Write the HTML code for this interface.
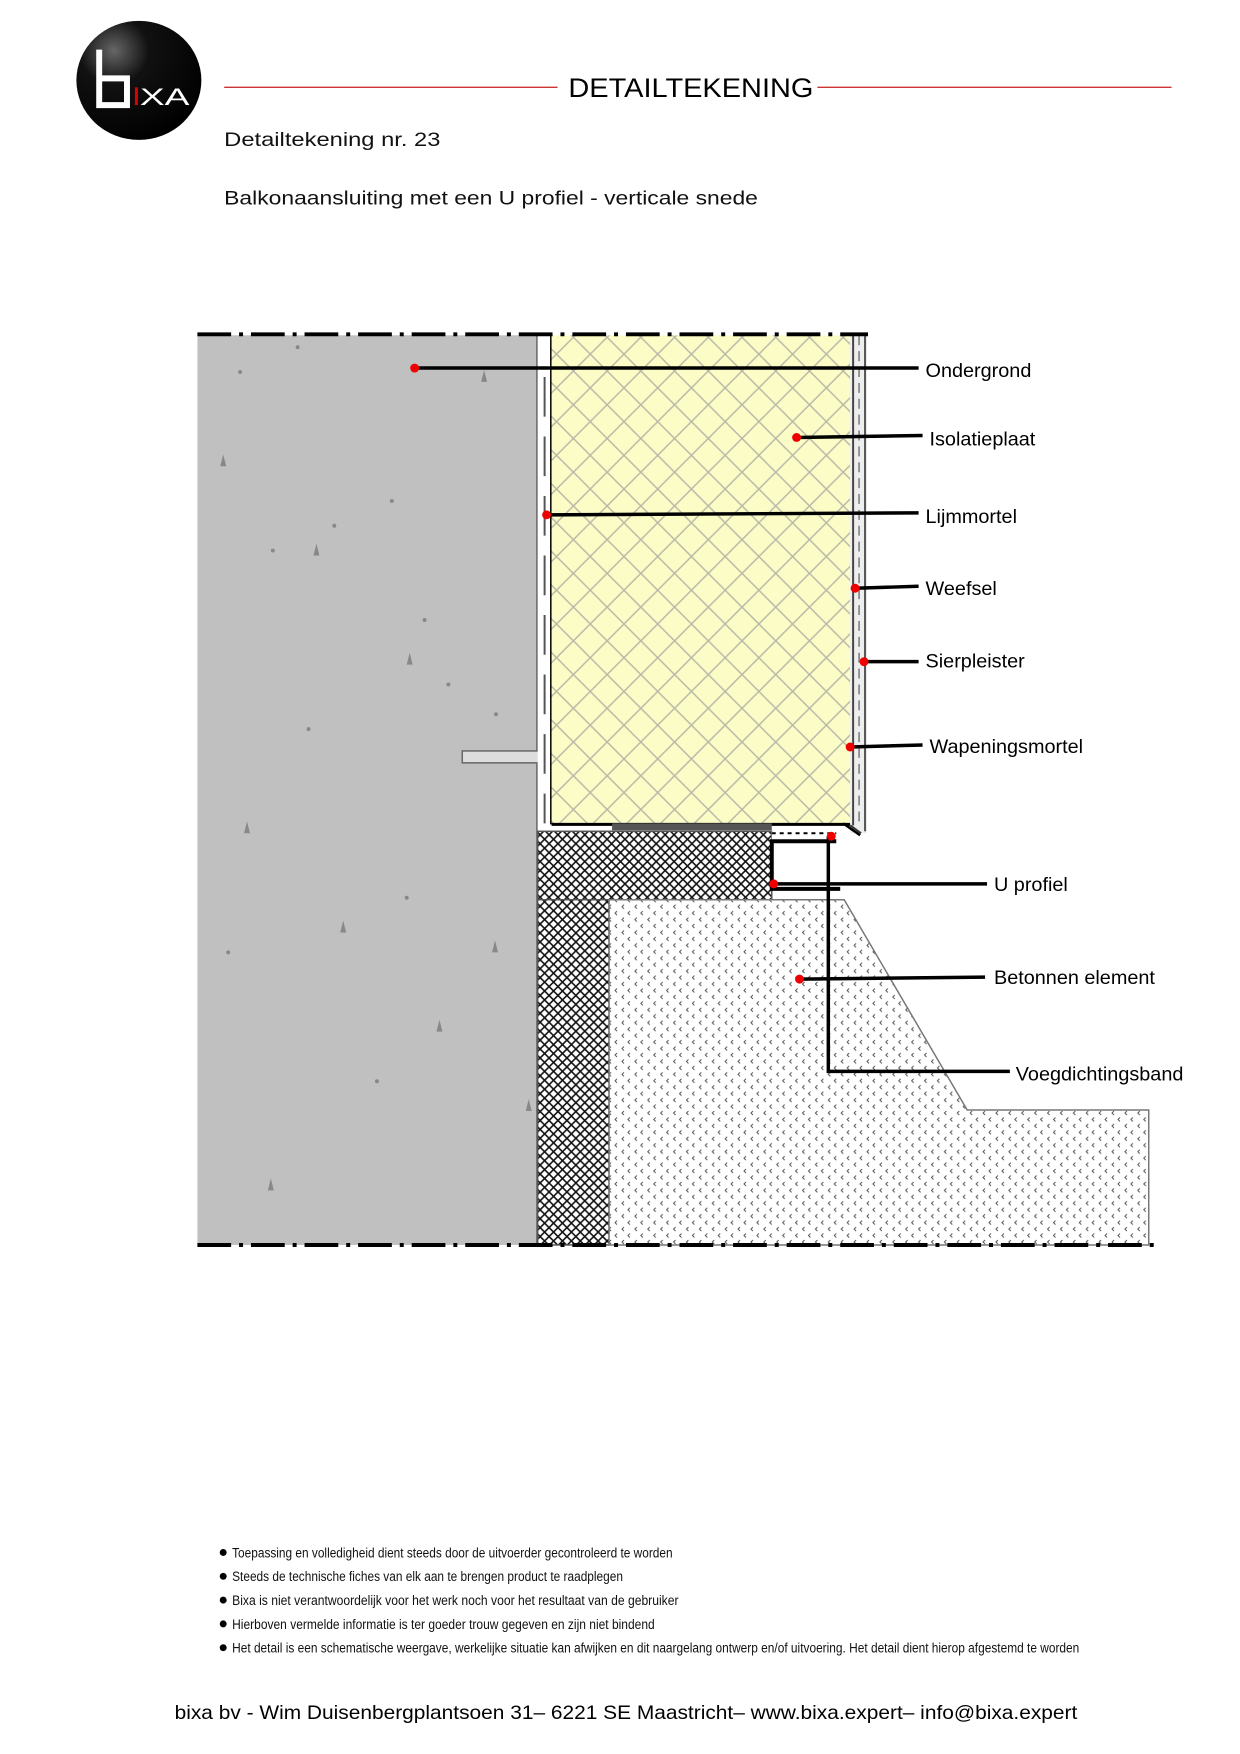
<!DOCTYPE html>
<html><head><meta charset="utf-8"><style>
html,body{margin:0;padding:0;background:#fff}
svg{display:block}
text{font-family:"Liberation Sans",sans-serif}
</style></head><body>
<svg width="1240" height="1754" viewBox="0 0 1240 1754" xmlns="http://www.w3.org/2000/svg">
<defs>
<radialGradient id="lg" cx="0.3" cy="0.25" r="0.8"><stop offset="0" stop-color="#666"/><stop offset="0.35" stop-color="#111"/><stop offset="1" stop-color="#000"/></radialGradient>
<pattern id="ins" width="34" height="34" patternUnits="userSpaceOnUse">
<rect width="34" height="34" fill="#fcfcc6"/>
<path d="M0 0L34 34M34 0L0 34" stroke="#b8b8a8" stroke-width="1.5"/>
</pattern>
<pattern id="hatch" width="9" height="9" patternUnits="userSpaceOnUse">
<rect width="9" height="9" fill="#fff"/>
<path d="M0 0L9 9M9 0L0 9" stroke="#111" stroke-width="1.6"/>
</pattern>
<pattern id="dots" width="13" height="13" patternUnits="userSpaceOnUse">
<rect width="13" height="13" fill="#fff"/>
<path d="M5 2L3 4L5 6" stroke="#555" stroke-width="1" fill="none"/>
<path d="M11 8.5L9 10.5L11 12.5" stroke="#555" stroke-width="1" fill="none"/>
</pattern>
</defs>
<g transform="scale(0.992)">
<!-- logo -->
<ellipse cx="140" cy="81" rx="63" ry="60" fill="url(#lg)"/>
<path d="M100 50V106H128V79H101" stroke="#fff" stroke-width="6" fill="none"/>
<rect x="136" y="88" width="3" height="18" fill="#d00"/>
<text x="141" y="106" font-size="24" fill="#fff" textLength="50" lengthAdjust="spacingAndGlyphs">XA</text>

<!-- header -->
<line x1="226" y1="88" x2="562" y2="88" stroke="#c33" stroke-width="1.3"/>
<line x1="824" y1="88" x2="1181" y2="88" stroke="#c33" stroke-width="1.3"/>
<text x="573" y="98" font-size="27" fill="#000" textLength="247" lengthAdjust="spacingAndGlyphs">DETAILTEKENING</text>
<text x="226" y="147" font-size="20" fill="#111" textLength="218" lengthAdjust="spacingAndGlyphs">Detailtekening nr. 23</text>
<text x="226" y="206" font-size="20" fill="#111" textLength="538" lengthAdjust="spacingAndGlyphs">Balkonaansluiting met een U profiel - verticale snede</text>

<!-- drawing -->
<rect x="199" y="338" width="343" height="917" fill="#c0c0c0"/>
<line x1="542" y1="338" x2="542" y2="1255" stroke="#666" stroke-width="3"/>
<g fill="#888">
<path d="M485 385l3 -12 3 12z"/><path d="M222 470l3 -12 3 12z"/><path d="M316 560l3 -12 3 12z"/><path d="M410 670l3 -12 3 12z"/><path d="M246 840l3 -12 3 12z"/><path d="M343 940l3 -12 3 12z"/><path d="M440 1040l3 -12 3 12z"/><path d="M270 1200l3 -12 3 12z"/><path d="M496 960l3 -12 3 12z"/><path d="M530 1120l3 -12 3 12z"/>
<circle cx="242" cy="375" r="2"/><circle cx="300" cy="350" r="2"/><circle cx="395" cy="505" r="2"/><circle cx="337" cy="530" r="2"/><circle cx="275" cy="555" r="2"/><circle cx="428" cy="625" r="2"/><circle cx="311" cy="735" r="2"/><circle cx="452" cy="690" r="2"/><circle cx="230" cy="960" r="2"/><circle cx="380" cy="1090" r="2"/><circle cx="500" cy="720" r="2"/><circle cx="410" cy="905" r="2"/>
</g>
<!-- anchor -->
<rect x="466" y="757" width="90" height="12" fill="#ddd" stroke="#666" stroke-width="1.5"/>
<!-- lijmmortel strip -->
<rect x="542" y="338" width="14" height="502" fill="#fff"/>
<line x1="549" y1="380" x2="549" y2="830" stroke="#555" stroke-width="2" stroke-dasharray="40 20"/>
<line x1="556" y1="338" x2="556" y2="831" stroke="#000" stroke-width="3"/>
<!-- insulation -->
<rect x="556" y="338" width="301" height="493" fill="url(#ins)"/>
<line x1="556" y1="831" x2="857" y2="831" stroke="#000" stroke-width="3"/>
<rect x="617" y="830" width="161" height="7" fill="#555"/>
<!-- outer layers -->
<rect x="857" y="338" width="17" height="502" fill="#eee"/>
<line x1="860" y1="338" x2="860" y2="832" stroke="#444" stroke-width="2"/>
<line x1="866" y1="338" x2="866" y2="832" stroke="#777" stroke-width="1.5" stroke-dasharray="10 6"/>
<line x1="872" y1="338" x2="872" y2="838" stroke="#555" stroke-width="2"/>
<line x1="857" y1="832" x2="868" y2="840" stroke="#333" stroke-width="2"/>
<line x1="850" y1="830" x2="867" y2="842" stroke="#000" stroke-width="2.5"/>
<!-- hatch blocks -->
<rect x="542" y="838" width="236" height="69" fill="url(#hatch)" stroke="#555" stroke-width="1.5"/>
<rect x="542" y="907" width="72" height="348" fill="url(#hatch)" stroke="#555" stroke-width="1.5"/>
<polygon points="614,907 851,907 975,1119 1158,1119 1158,1255 614,1255" fill="url(#dots)" stroke="#777" stroke-width="1.5"/>
<!-- U profile -->
<rect x="778" y="838" width="65" height="10" fill="#fff"/>
<path d="M778 840h65" stroke="#000" stroke-width="2" stroke-dasharray="4 4"/>
<path d="M843 848H778V896H847" stroke="#000" stroke-width="4" fill="none"/>
<!-- dashed borders -->
<line x1="199" y1="337" x2="875" y2="337" stroke="#000" stroke-width="4" stroke-dasharray="34 8 4 8"/>
<line x1="199" y1="1255" x2="1169" y2="1255" stroke="#000" stroke-width="4" stroke-dasharray="34 8 4 8"/>

<!-- leaders -->
<g stroke="#000" stroke-width="3.5" fill="none">
<line x1="418" y1="371" x2="926" y2="371"/>
<line x1="803" y1="441" x2="930" y2="439"/>
<line x1="551" y1="519" x2="926" y2="517"/>
<line x1="862" y1="593" x2="926" y2="591"/>
<line x1="871" y1="667" x2="926" y2="667"/>
<line x1="857" y1="753" x2="930" y2="751"/>
<line x1="780" y1="891" x2="995" y2="891"/>
<line x1="806" y1="987" x2="993" y2="985"/>
<path d="M835 843V1080H1018"/>
</g>
<g fill="#e00">
<circle cx="418" cy="371" r="4.5"/><circle cx="803" cy="441" r="4.5"/><circle cx="551" cy="519" r="4.5"/><circle cx="862" cy="593" r="4.5"/><circle cx="871" cy="667" r="4.5"/><circle cx="857" cy="753" r="4.5"/><circle cx="780" cy="891" r="4.5"/><circle cx="806" cy="987" r="4.5"/><circle cx="838" cy="843" r="4.5"/>
</g>
<g font-size="20" fill="#000">
<text x="933" y="380">Ondergrond</text>
<text x="937" y="449">Isolatieplaat</text>
<text x="933" y="527">Lijmmortel</text>
<text x="933" y="600">Weefsel</text>
<text x="933" y="673">Sierpleister</text>
<text x="937" y="759">Wapeningsmortel</text>
<text x="1002" y="898">U profiel</text>
<text x="1002" y="992">Betonnen element</text>
<text x="1024" y="1089">Voegdichtingsband</text>
</g>

<!-- notes -->
<g fill="#000">
<circle cx="225" cy="1565" r="3.5"/><circle cx="225" cy="1589" r="3.5"/><circle cx="225" cy="1613" r="3.5"/><circle cx="225" cy="1637" r="3.5"/><circle cx="225" cy="1661" r="3.5"/>
</g>
<g font-size="14" fill="#111">
<text x="234" y="1570" textLength="444" lengthAdjust="spacingAndGlyphs">Toepassing en volledigheid dient steeds door de uitvoerder gecontroleerd te worden</text>
<text x="234" y="1594" textLength="394" lengthAdjust="spacingAndGlyphs">Steeds de technische fiches van elk  aan te brengen product te raadplegen</text>
<text x="234" y="1618" textLength="450" lengthAdjust="spacingAndGlyphs">Bixa is niet verantwoordelijk voor  het werk noch voor het resultaat van de gebruiker</text>
<text x="234" y="1642" textLength="426" lengthAdjust="spacingAndGlyphs">Hierboven  vermelde informatie is ter goeder trouw gegeven  en zijn niet bindend</text>
<text x="234" y="1666" textLength="854" lengthAdjust="spacingAndGlyphs">Het detail is een schematische weergave, werkelijke situatie kan afwijken en dit naargelang ontwerp en/of uitvoering. Het detail dient hierop afgestemd te worden</text>
</g>
<text x="176" y="1733" font-size="20" fill="#000" textLength="910" lengthAdjust="spacingAndGlyphs">bixa bv - Wim Duisenbergplantsoen 31– 6221 SE Maastricht– www.bixa.expert– info@bixa.expert</text>
</g>
</svg>
</body></html>
